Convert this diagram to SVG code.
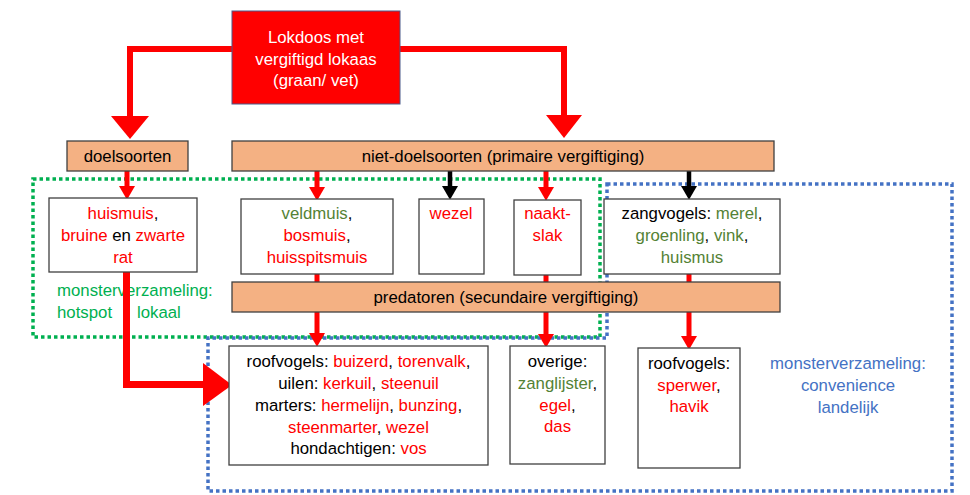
<svg xmlns="http://www.w3.org/2000/svg" width="970" height="495" viewBox="0 0 970 495">
<style>
text{font-family:"Liberation Sans",Arial,sans-serif;font-size:16.8px;fill:#000;text-anchor:middle}
.r{fill:#FF0000}
.g{fill:#548235}
.w{fill:#FFFFFF}
.gl{fill:#00B050;text-anchor:start}
.bl{fill:#4472C4}
.box{fill:#FFFFFF;stroke:#404040;stroke-width:1.3}
.or{fill:#F4B183;stroke:#404040;stroke-width:1.3}
.zone{fill:none;stroke-width:3.5;stroke-dasharray:3.5 3}
.thick{fill:none;stroke:#FF0000;stroke-linejoin:miter}
.sr{stroke:#FF0000;stroke-width:5;fill:none}
.sb{stroke:#000000;stroke-width:4.5;fill:none}
</style>
<defs>
<marker id="ar" markerUnits="userSpaceOnUse" markerWidth="16" markerHeight="16" refX="0" refY="7.5" orient="auto" viewBox="0 0 13 15">
<path d="M0,0 L13,7.5 L0,15 z" fill="#FF0000"/>
</marker>
<marker id="ab" markerUnits="userSpaceOnUse" markerWidth="16" markerHeight="16" refX="0" refY="7.5" orient="auto" viewBox="0 0 13 15">
<path d="M0,0 L13,7.5 L0,15 z" fill="#000000"/>
</marker>
</defs>

<g id="zones">
<rect id="zone-hotspot" class="zone" x="33" y="179" width="567" height="158" stroke="#00B050"/>
<path id="zone-convenience" class="zone" d="M607,184 H952 V491 H208 V338 H607 Z" stroke="#4472C4"/>
<text class="gl" x="57" y="296">monsterverzameling:</text>
<text class="gl" x="57" y="318">hotspot</text>
<text class="gl" x="137" y="318">lokaal</text>
<text class="bl" x="848" y="369">monsterverzameling:</text>
<text class="bl" x="848" y="391">convenience</text>
<text class="bl" x="848" y="413">landelijk</text>
</g>

<g id="connectors">
<path class="thick" stroke-width="6" d="M232,49 H130 V116"/>
<polygon points="111,116 149,116 130,139" fill="#FF0000"/>
<path class="thick" stroke-width="6" d="M400,49 H564 V115"/>
<polygon points="546,115 582,115 564,138" fill="#FF0000"/>
<path class="thick" stroke-width="7" d="M126.5,272 V384.5 H204"/>
<polygon points="203,363 232,385 203,406" fill="#FF0000"/>
<line class="sr" x1="127" y1="171" x2="127" y2="186" marker-end="url(#ar)"/>
<line class="sr" x1="317" y1="171" x2="317" y2="187" marker-end="url(#ar)"/>
<line class="sb" x1="450" y1="171" x2="450" y2="186" marker-end="url(#ab)"/>
<line class="sr" x1="546" y1="171" x2="546" y2="187" marker-end="url(#ar)"/>
<line class="sb" x1="689" y1="171" x2="689" y2="186" marker-end="url(#ab)"/>
<line class="sr" x1="317" y1="274" x2="317" y2="333" marker-end="url(#ar)"/>
<line class="sr" x1="546" y1="275" x2="546" y2="334" marker-end="url(#ar)"/>
<line class="sr" x1="689" y1="274" x2="689" y2="336" marker-end="url(#ar)"/>
</g>

<g id="node-lokdoos">
<rect x="232" y="11" width="168" height="93" fill="#FF0000" stroke="#4a5a8a" stroke-width="1"/>
<text class="w" x="316" y="43">Lokdoos met</text>
<text class="w" x="316" y="65">vergiftigd lokaas</text>
<text class="w" x="316" y="86">(graan/ vet)</text>
</g>

<g id="node-doelsoorten">
<rect class="or" x="67" y="141" width="121" height="30"/>
<text x="127.5" y="162">doelsoorten</text>
</g>

<g id="node-niet-doelsoorten">
<rect class="or" x="232" y="141" width="542" height="30"/>
<text x="503" y="162">niet-doelsoorten (primaire vergiftiging)</text>
</g>

<g id="node-huismuis">
<rect class="box" x="49" y="198" width="148" height="74"/>
<text x="123" y="219"><tspan class="r">huismuis</tspan>,</text>
<text x="123" y="241"><tspan class="r">bruine</tspan> en <tspan class="r">zwarte</tspan></text>
<text x="123" y="263" class="r">rat</text>
</g>

<g id="node-veldmuis">
<rect class="box" x="241" y="199" width="152" height="75"/>
<text x="317" y="219"><tspan class="g">veldmuis</tspan>,</text>
<text x="317" y="241"><tspan class="r">bosmuis</tspan>,</text>
<text x="317" y="263" class="r">huisspitsmuis</text>
</g>

<g id="node-wezel">
<rect class="box" x="419" y="199" width="65" height="75"/>
<text x="451" y="219" class="r">wezel</text>
</g>

<g id="node-naaktslak">
<rect class="box" x="514" y="200" width="67" height="75"/>
<text x="547.5" y="219" class="r">naakt-</text>
<text x="547.5" y="241" class="r">slak</text>
</g>

<g id="node-zangvogels">
<rect class="box" x="604" y="199" width="176" height="75"/>
<text x="692" y="219">zangvogels: <tspan class="g">merel</tspan>,</text>
<text x="692" y="241"><tspan class="g">groenling</tspan>, <tspan class="g">vink</tspan>,</text>
<text x="692" y="263" class="g">huismus</text>
</g>

<g id="node-predatoren">
<rect class="or" x="232" y="282" width="548" height="30"/>
<text x="506" y="303">predatoren (secundaire vergiftiging)</text>
</g>

<g id="node-roofvogels">
<rect class="box" x="229" y="346" width="259" height="119"/>
<text x="358.5" y="367">roofvogels: <tspan class="r">buizerd</tspan>, <tspan class="r">torenvalk</tspan>,</text>
<text x="358.5" y="389">uilen: <tspan class="r">kerkuil</tspan>, <tspan class="r">steenuil</tspan></text>
<text x="358.5" y="411">marters: <tspan class="r">hermelijn</tspan>, <tspan class="r">bunzing</tspan>,</text>
<text x="358.5" y="433"><tspan class="r">steenmarter</tspan>, <tspan class="r">wezel</tspan></text>
<text x="358.5" y="454">hondachtigen: <tspan class="r">vos</tspan></text>
</g>

<g id="node-overige">
<rect class="box" x="510" y="346" width="95" height="118"/>
<text x="557.5" y="367">overige:</text>
<text x="557.5" y="389"><tspan class="g">zanglijster</tspan>,</text>
<text x="557.5" y="411"><tspan class="r">egel</tspan>,</text>
<text x="557.5" y="432" class="r">das</text>
</g>

<g id="node-sperwer">
<rect class="box" x="638" y="348" width="102" height="120"/>
<text x="689" y="369">roofvogels:</text>
<text x="689" y="391"><tspan class="r">sperwer</tspan>,</text>
<text x="689" y="412" class="r">havik</text>
</g>
</svg>
